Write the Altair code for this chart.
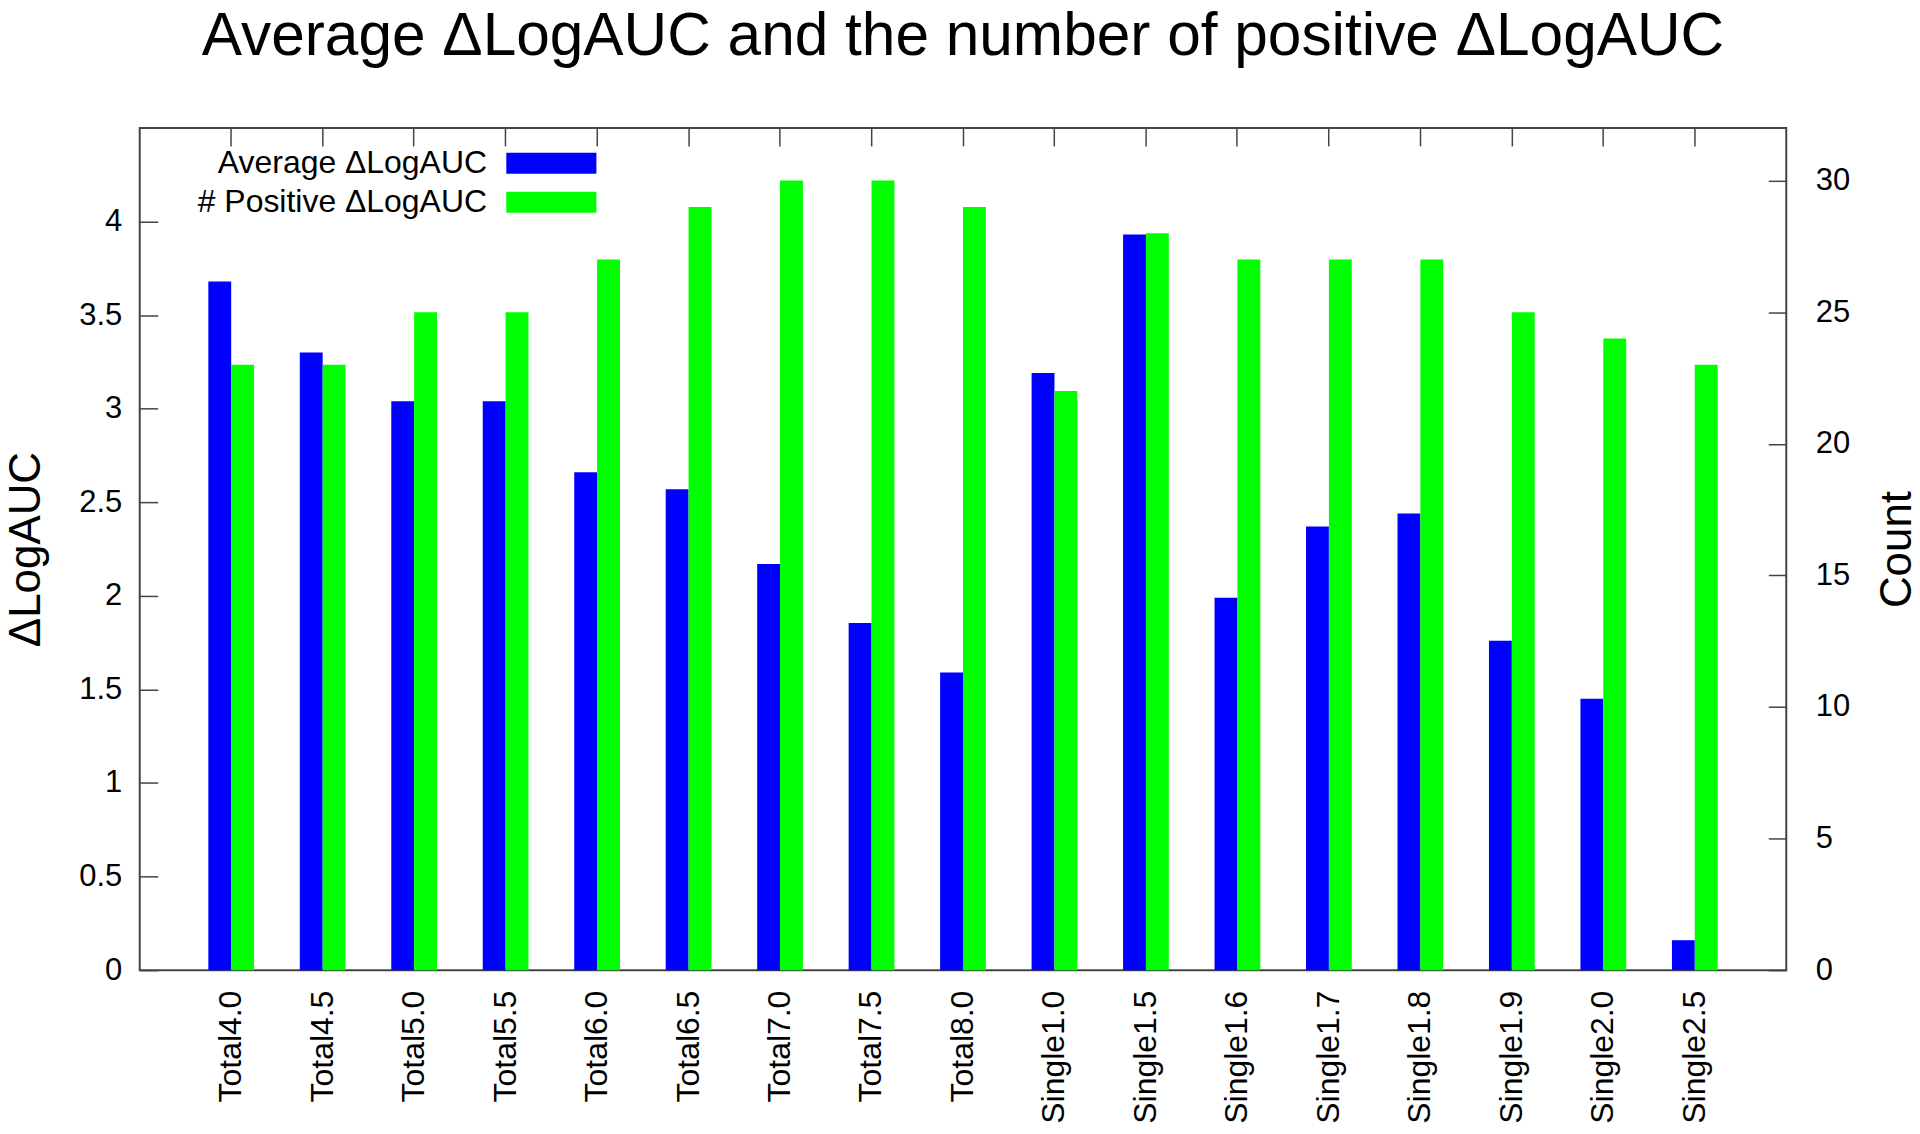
import altair as alt
import pandas as pd

categories = ["Total4.0", "Total4.5", "Total5.0", "Total5.5", "Total6.0", "Total6.5",
              "Total7.0", "Total7.5", "Total8.0", "Single1.0", "Single1.5", "Single1.6",
              "Single1.7", "Single1.8", "Single1.9", "Single2.0", "Single2.5"]
avg_dlogauc = [3.68, 3.30, 3.04, 3.04, 2.66, 2.57, 2.17, 1.855, 1.59,
               3.19, 3.93, 1.99, 2.37, 2.44, 1.76, 1.45, 0.16]
pos_count = [23, 23, 25, 25, 27, 29, 30, 30, 29, 22, 28, 27, 27, 27, 25, 24, 23]
series_names = ["Average ΔLogAUC", "# Positive ΔLogAUC"]
series_colors = ["#0000ff", "#00ff00"]
left_ticks = [0, 0.5, 1, 1.5, 2, 2.5, 3, 3.5, 4]
right_ticks = [0, 5, 10, 15, 20, 25, 30]

n = len(categories)
df = pd.DataFrame({
    "category": categories * 2,
    "series": [series_names[0]] * n + [series_names[1]] * n,
    "value": avg_dlogauc + pos_count,
})

W, H = 1650, 844
FONT = "Liberation Sans"
FRAME = "#444444"

x = alt.X("category:N", sort=categories,
          scale=alt.Scale(paddingInner=0, paddingOuter=0.5),
          axis=alt.Axis(title=None, labelAngle=-90, labelFontSize=32, labelPadding=20,
                        labelFont=FONT, labelColor="black", ticks=False, domain=False,
                        grid=True, gridDash=[18, 4000], gridColor=FRAME,
                        gridWidth=1.5, gridOpacity=1))
xoff = alt.XOffset("series:N",
                   scale=alt.Scale(domain=series_names, paddingInner=0, paddingOuter=1))
color = alt.Color("series:N",
                  scale=alt.Scale(domain=series_names, range=series_colors),
                  legend=alt.Legend(title=None, orient="none", legendX=396.5, legendY=19.5,
                                    symbolType="M-4.3,-1H4.3V1H-4.3Z", symbolSize=441,
                                    symbolStrokeWidth=0, symbolOpacity=1,
                                    labelFontSize=32, labelFont=FONT, labelColor="black",
                                    labelLimit=600, labelAlign="right",
                                    labelOffset={"expr": "-80.5"},
                                    rowPadding=7, padding=0))

left = alt.Chart(df).transform_filter(
    alt.datum.series == series_names[0]
).mark_bar().encode(
    x=x, xOffset=xoff, color=color,
    y=alt.Y("value:Q", scale=alt.Scale(domain=[0, 4.5], nice=False, zero=True),
            axis=alt.Axis(orient="left", title="ΔLogAUC", values=left_ticks, format=".1~f",
                          labelFontSize=31, labelFont=FONT, labelColor="black", labelPadding=18,
                          titleFontSize=44, titleFont=FONT, titleFontWeight="normal",
                          titleColor="black", titlePadding=30,
                          ticks=False, domain=False, grid=True, gridDash=[18, 4000],
                          gridColor=FRAME, gridWidth=1.5, gridOpacity=1)),
)

right = alt.Chart(df).transform_filter(
    alt.datum.series == series_names[1]
).mark_bar().encode(
    x=x, xOffset=xoff, color=color,
    y=alt.Y("value:Q", scale=alt.Scale(domain=[0, 32], nice=False, zero=True),
            axis=alt.Axis(orient="right", title="Count", values=right_ticks, format="d",
                          labelFontSize=31, labelFont=FONT, labelColor="black", labelPadding=29,
                          titleFontSize=44, titleFont=FONT, titleFontWeight="normal",
                          titleColor="black", titlePadding=70, titleAngle=270,
                          ticks=False, domain=False, grid=True, gridDash=[18, 4000],
                          gridColor=FRAME, gridWidth=1.5, gridOpacity=1)),
)

chart = alt.layer(left, right).resolve_scale(y="independent").properties(
    width=W, height=H,
    title=alt.Title("Average ΔLogAUC and the number of positive ΔLogAUC",
                    fontSize=60.5, font=FONT, fontWeight="normal", color="black",
                    anchor="middle", offset=61),
    autosize=alt.AutoSizeParams(type="none"),
    padding={"left": 132, "top": 119, "right": 126, "bottom": 158},
).configure_view(stroke=FRAME, strokeWidth=2)

chart.save("out.html", embed_options={"renderer": "svg", "actions": False})
